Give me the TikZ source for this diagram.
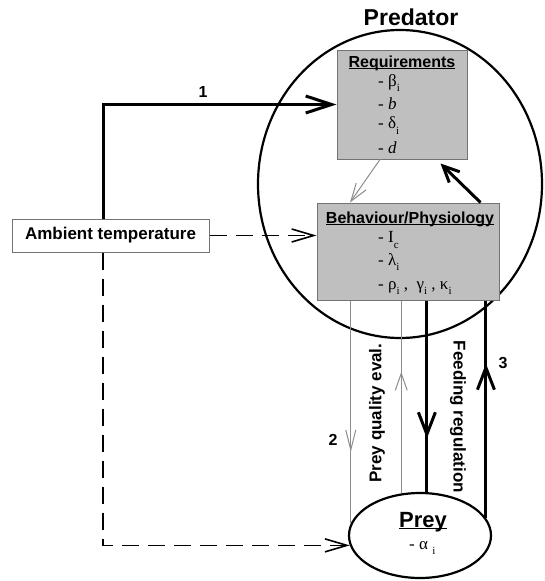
\documentclass[tikz,border=0pt]{standalone}
\usepackage{fontspec}
\setmainfont{Liberation Serif}
\setsansfont{Liberation Sans}
\usepackage{tikz}
\usetikzlibrary{arrows.meta}
\usetikzlibrary{shapes.geometric,decorations.markings}
\colorlet{boxFill}{black!25}
\colorlet{boxEdge}{black!55}
\colorlet{penGray}{black!45}
\newcommand{\sub}[1]{\raisebox{-0.35em}{\fontsize{11}{11}\selectfont #1}}
\newcommand{\uline}[1]{\underline{\smash{#1}}}
\tikzset{
  box/.style={draw=boxEdge,fill=boxFill,line width=1pt,inner sep=0pt},
  oval/.style={draw,ellipse,line width=2.2pt,inner sep=0pt},
  head/.style={inner sep=0pt,anchor=base,font=\sffamily\bfseries\fontsize{16}{16}\selectfont},
  item/.style={inner sep=0pt,anchor=west,font=\fontsize{17}{17}\selectfont},
  lab/.style={inner sep=0pt,font=\sffamily\bfseries\fontsize{17}{17}\selectfont},
  num/.style={inner sep=0pt,font=\sffamily\bfseries\fontsize{16}{16}\selectfont},
  fat/.style={line width=3pt},
  thin/.style={penGray,line width=1pt},
  dashy/.style={line width=1.6pt,dash pattern=on 17pt off 9pt},
  midtip/.style 2 args={postaction={decorate},
    decoration={markings,mark=at position #1 with {\arrow{#2}}}}
}

\begin{document}
\begin{tikzpicture}[x=1pt,y=-1pt,line cap=butt]

  \useasboundingbox (0,0) rectangle (544,581);

  % the two animals
  \node [oval,minimum width=284pt,minimum height=308pt] (pred) at (400,184) {};
  \node [oval,minimum width=142pt,minimum height=85pt] (prey) at (420,535.5) {};
  \node [inner sep=0pt,anchor=base,font=\sffamily\bfseries\fontsize{23}{23}\selectfont] (predT) at (411,25) {Predator};

  \node [box,minimum width=130pt,minimum height=109pt] (req) at (402,104.5) {};
  \node [box,minimum width=182pt,minimum height=97pt] (beh) at (408,251.5) {};
  \node [draw=boxEdge,fill=white,line width=1pt,minimum width=197pt,minimum height=33pt,
         inner sep=0pt,font=\sffamily\bfseries\fontsize{17}{17}\selectfont] (amb) at (110.5,235.5) {Ambient temperature};

  \node [head] (reqT) at (402,67) {\uline{Requirements}};
  \node [item] (reqA) at (378,83) {- β\sub{i}};
  \node [item] (reqB) at (378,104) {- \textit{b}};
  \node [item] (reqC) at (378,126) {- δ\sub{i}};
  \node [item] (reqD) at (378,148) {- \textit{d}};

  \node [head] (behT) at (410,223) {\uline{Behaviour/Physiology}};
  \node [item] (behA) at (378,240) {- I\sub{c}};
  \node [item] (behB) at (378,262) {- λ\sub{i}};
  \node [item] (behC) at (378,288) {- ρ\sub{i} ,\ \ γ\sub{i} , κ\sub{i}};

  \node [inner sep=0pt,anchor=base,font=\sffamily\bfseries\fontsize{22}{22}\selectfont] (preyT) at (423,527) {\uline{Prey}};
  \node [item] (preyA) at (409,548) {- α \sub{i}};

  % links
  \draw [fat,-{Straight Barb[length=26pt,width=17pt]}] ([xshift=-7.5pt]amb.north) |- (req.west);
  \draw [fat,-{Straight Barb[length=16pt,width=15pt]}] ([xshift=-19pt]beh.north east) -- ([xshift=-27pt,yshift=-4pt]req.south east);
  \draw [thin,-{Straight Barb[length=18pt,width=12pt]}] ([xshift=-22pt]req.south) -- ([xshift=-58pt]beh.north);

  \draw [dashy,-{Straight Barb[length=22pt,width=13pt,line width=1.6pt]}] (amb.east) -- (beh.west |- amb.east);
  \draw [dashy,-{Straight Barb[length=22pt,width=13pt,line width=1.6pt]}] ([xshift=-7.5pt]amb.south) |- (prey.188);

  \draw [thin,midtip={0.68}{Straight Barb[length=20pt,width=10pt]}] (prey.170 |- beh.south) -- (prey.170);
  \draw [thin,midtip={0.63}{Straight Barb[length=17pt,width=12pt]}] (prey.114) -- (prey.114 |- beh.south);
  \draw [fat,midtip={0.72}{Straight Barb[length=22pt,width=17pt]}] (prey.81 |- beh.south) -- (prey.81);
  \draw [fat,midtip={0.71}{Straight Barb[length=22pt,width=17pt]}] (prey.15) -- (prey.15 |- beh.south);

  \node [lab,rotate=90] (qual) at (377,413) {Prey quality eval.};
  \node [lab,rotate=-90] (feed) at (458,417) {Feeding regulation};

  \node [num] (n1) at (203,92) {1};
  \node [num] (n2) at (333,440) {2};
  \node [num] (n3) at (503,363) {3};

\end{tikzpicture}
\end{document}
